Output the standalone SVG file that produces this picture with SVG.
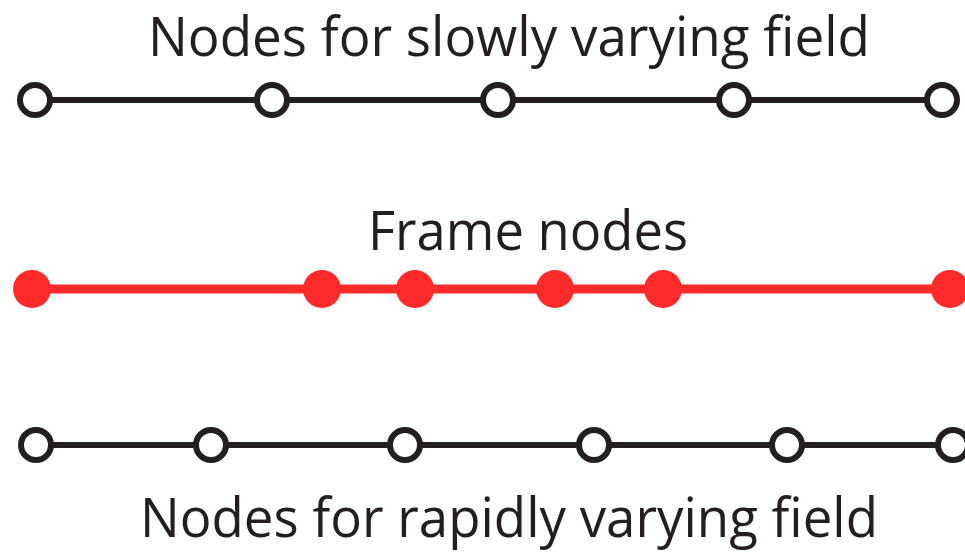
<svg xmlns="http://www.w3.org/2000/svg" width="965" height="552" viewBox="0 0 965 552">
<style>
.lbl{font-family:"Open Sans","Noto Sans","Liberation Sans",sans-serif;font-size:55px;fill:#231f20;text-anchor:middle}
.bl{stroke:#231f20;stroke-width:6;fill:none}
.bn{stroke:#231f20;stroke-width:6;fill:#fff}
.rl{stroke:#ff2a2a;stroke-width:9;fill:none}
.rn{fill:#ff2a2a}
</style>
<rect width="965" height="552" fill="#fff"/>
<g id="connectors">
<line class="bl" x1="35" y1="100" x2="942" y2="100"/>
<line class="rl" x1="32" y1="289" x2="950" y2="289"/>
<line class="bl" x1="36" y1="445" x2="953" y2="445"/>
</g>
<g id="label-slow"><text class="lbl" x="509" y="56" textLength="722" lengthAdjust="spacingAndGlyphs">Nodes for slowly varying field</text></g>
<g id="label-frame"><text class="lbl" x="528" y="250" textLength="320" lengthAdjust="spacingAndGlyphs">Frame nodes</text></g>
<g id="label-rapid"><text class="lbl" x="509" y="537" textLength="738" lengthAdjust="spacingAndGlyphs">Nodes for rapidly varying field</text></g>
<g id="slow-nodes">
<g id="s1"><circle class="bn" cx="35" cy="100" r="15"/></g>
<g id="s2"><circle class="bn" cx="272" cy="100" r="15"/></g>
<g id="s3"><circle class="bn" cx="498" cy="100" r="15"/></g>
<g id="s4"><circle class="bn" cx="734" cy="100" r="15"/></g>
<g id="s5"><circle class="bn" cx="942" cy="100" r="15"/></g>
</g>
<g id="frame-nodes">
<g id="f1"><circle class="rn" cx="32" cy="289" r="19"/></g>
<g id="f2"><circle class="rn" cx="322" cy="289" r="19"/></g>
<g id="f3"><circle class="rn" cx="415" cy="289" r="19"/></g>
<g id="f4"><circle class="rn" cx="555" cy="289" r="19"/></g>
<g id="f5"><circle class="rn" cx="663" cy="289" r="19"/></g>
<g id="f6"><circle class="rn" cx="950" cy="289" r="19"/></g>
</g>
<g id="rapid-nodes">
<g id="r1"><circle class="bn" cx="36" cy="445" r="15"/></g>
<g id="r2"><circle class="bn" cx="211" cy="445" r="15"/></g>
<g id="r3"><circle class="bn" cx="405" cy="445" r="15"/></g>
<g id="r4"><circle class="bn" cx="594" cy="445" r="15"/></g>
<g id="r5"><circle class="bn" cx="787" cy="445" r="15"/></g>
<g id="r6"><circle class="bn" cx="953" cy="445" r="15"/></g>
</g>
</svg>
